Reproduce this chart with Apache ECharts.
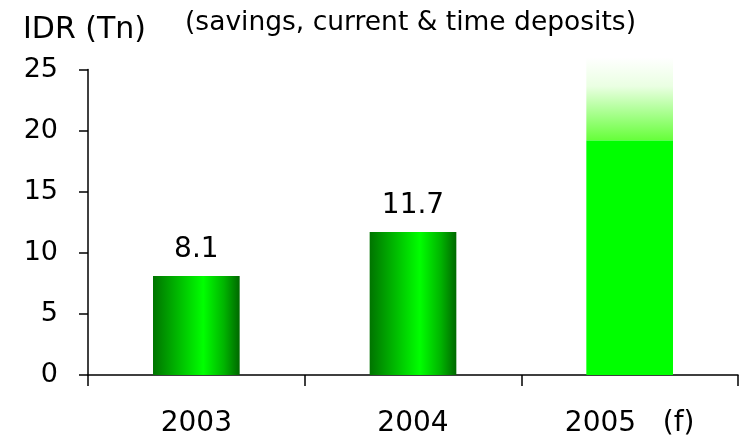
<!DOCTYPE html>
<html>
<head>
<meta charset="utf-8">
<script src="https://cdn.jsdelivr.net/npm/echarts@6/dist/echarts.min.js"></script>
<style>
  html, body { margin: 0; padding: 0; background: #fff; }
  #chart { width: 742px; height: 441px; }
</style>
</head>
<body>
<div id="chart"></div>
<script>
// Third-party funds (savings, current & time deposits), IDR trillion
const years = ['2003', '2004', '2005   (f)'];
const deposits = [8.1, 11.7, 19.2];      // actual / forecast base
const forecastTop = [null, null, 26.0];  // upper end of the 2005 forecast
const labelled = [true, true, false];
const yTicks = [0, 5, 10, 15, 20, 25];

const FONT = 'DejaVu Sans';

// cylinder-like shading for the actual years
const shaded = new echarts.graphic.LinearGradient(0, 0, 1, 0, [
  { offset: 0, color: '#007400' },
  { offset: 0.15, color: '#009800' },
  { offset: 0.58, color: '#00ff00' },
  { offset: 0.82, color: '#00b400' },
  { offset: 1, color: '#006800' }
]);
const flat = '#00ff00';
const fade = new echarts.graphic.LinearGradient(0, 0, 0, 1, [
  { offset: 0, color: '#ffffff' },
  { offset: 0.35, color: '#eaffe2' },
  { offset: 1, color: '#66ff3a' }
]);

const baseData = deposits.map((v, i) => ({
  value: v,
  itemStyle: { color: i < 2 ? shaded : flat },
  label: { show: labelled[i] }
}));
const topData = forecastTop.map((v, i) => v == null ? '-' : +(v - deposits[i]).toFixed(2));

const chart = echarts.init(document.getElementById('chart'), null, { renderer: 'canvas' });
chart.setOption({
  animation: false,
  backgroundColor: '#ffffff',
  title: [
    { text: 'IDR (Tn)', left: 18, top: 10,
      textStyle: { fontFamily: FONT, fontSize: 30, fontWeight: 'normal', color: '#000' } },
    { text: '(savings, current & time deposits)', left: 180, top: 5,
      textStyle: { fontFamily: FONT, fontSize: 26.5, fontWeight: 'normal', color: '#000' } }
  ],
  grid: { left: 88, right: 4, top: 69.5, bottom: 66, containLabel: false },
  xAxis: {
    type: 'category',
    data: years,
    axisLine: { lineStyle: { color: '#000', width: 1.5 } },
    axisTick: { show: true, length: 11, lineStyle: { color: '#000', width: 1.5 } },
    axisLabel: { fontFamily: FONT, fontSize: 28, color: '#000', margin: 35 }
  },
  yAxis: {
    type: 'value',
    min: yTicks[0],
    max: yTicks[yTicks.length - 1],
    interval: 5,
    splitLine: { show: false },
    axisLine: { show: true, lineStyle: { color: '#000', width: 1.5 } },
    axisTick: { show: true, length: 9, lineStyle: { color: '#000', width: 1.5 } },
    axisLabel: { fontFamily: FONT, fontSize: 27, color: '#000', margin: 30 }
  },
  series: [
    {
      type: 'bar',
      stack: 'dep',
      barWidth: '40%',
      clip: false,
      data: baseData,
      label: {
        position: 'top',
        distance: 12,
        fontFamily: FONT,
        fontSize: 28,
        color: '#000'
      }
    },
    {
      type: 'bar',
      stack: 'dep',
      barWidth: '40%',
      clip: false,
      z: 1,
      data: topData,
      itemStyle: { color: fade }
    }
  ]
});
</script>
</body>
</html>
